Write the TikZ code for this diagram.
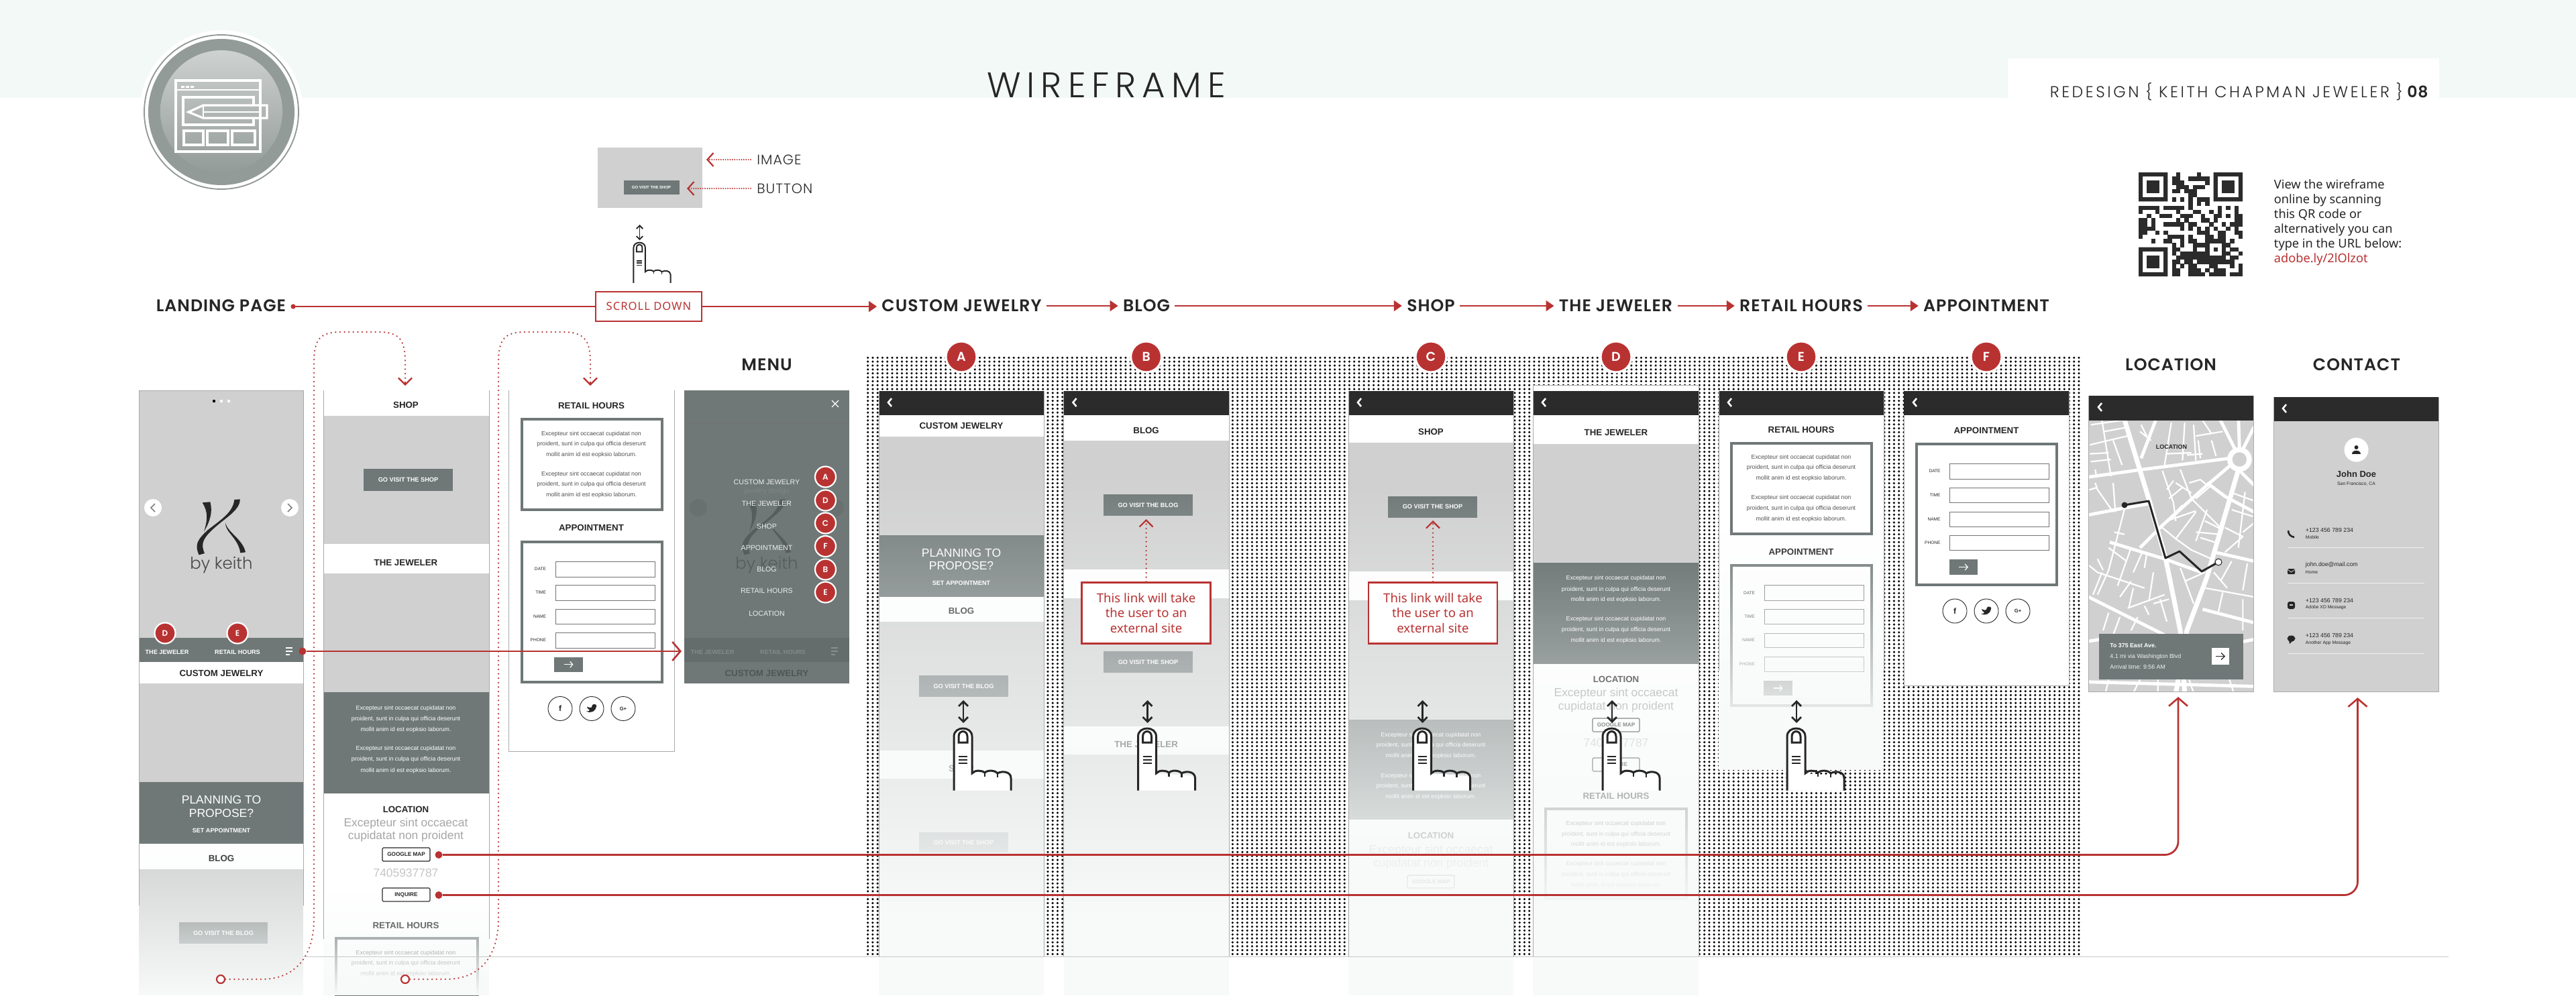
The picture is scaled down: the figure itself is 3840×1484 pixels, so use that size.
\documentclass[tikz,border=0pt]{standalone}
\usepackage{fontspec}
\usetikzlibrary{arrows.meta,fadings}
\setmainfont{Liberation Sans}
\newfontfamily\hd[LetterSpace=4]{Poppins SemiBold}
\newfontfamily\ltt[LetterSpace=17]{Poppins Light}
\newfontfamily\lta{Poppins Light}
\newfontfamily\lth[LetterSpace=15]{Poppins Light}
\newfontfamily\lti[LetterSpace=5]{Poppins Light}
\newfontfamily\ns{Noto Sans}
\newfontfamily\nss[LetterSpace=6]{Noto Sans}
\definecolor{ink}{HTML}{262626}
\definecolor{bandc}{HTML}{F3F9F7}
\definecolor{darkc}{HTML}{6F7777}
\definecolor{grayc}{HTML}{D0D0D0}
\definecolor{redc}{HTML}{B93232}
\definecolor{blackc}{HTML}{2B2B2B}
\definecolor{fadec}{HTML}{F7FAF9}
\definecolor{edgec}{HTML}{A8ABAB}
\definecolor{discc}{HTML}{939B99}
\definecolor{disctop}{HTML}{CED2D0}
\definecolor{ringc}{HTML}{8F9795}
\newcount\tcnt
\newcommand\fz[1]{\fontsize{#1}{#1}\selectfont}
\tikzfading[name=fdown, top color=transparent!100, bottom color=transparent!0]
\tikzset{
  txt/.style={inner sep=0pt,align=center,text=ink,font=\fz{5}},
  stitle/.style={font=\bfseries\fz{6.65}},
  para/.style={font=\fz{4.4}},
  bigp/.style={font=\fz{8.7},text=gray!70},
  headn/.style={inner ysep=0pt,inner xsep=3.5pt,text=ink,font=\hd\fz{12.6}},
  badge/.style={circle,fill=redc,draw=white,text=white,inner sep=0pt,line width=1.6pt,minimum size=23pt,font=\hd\fz{9.5}},
  sbadge/.style={circle,fill=redc,draw=white,text=white,inner sep=0pt,line width=1.1pt,minimum size=15.5pt,font=\hd\fz{6}},
  redline/.style={draw=redc,line width=1.4pt},
  thinred/.style={draw=redc,line width=.9pt},
  reddots/.style={draw=redc,line width=1.25pt,line cap=round,dash pattern=on 0pt off 3.3pt},
  keydots/.style={draw=redc,line width=1.1pt,line cap=round,dash pattern=on 0pt off 1.7pt},
  keytip/.style={-{Straight Barb[length=4.5pt,width=10pt,line width=1.1pt]}},
  opentip/.style={-{Straight Barb[length=5pt,width=10pt,line width=1.1pt]}},
  soltip/.style={-{Triangle[length=6pt,width=8pt]}},
  dotrow/.style={line width=1.75pt,line cap=round,dash pattern=on 0pt off 3.625pt,black},
  ring/.style={circle,draw=redc,fill=white,line width=1.1pt,minimum size=6pt,inner sep=0pt},
  dotn/.style={circle,fill=redc,minimum size=5.5pt,inner sep=0pt},
  road1/.style={draw=white,line width=3.5pt},
  road2/.style={draw=white,line width=2.4pt},
  road3/.style={draw=white,line width=1.1pt},
  callout/.style={draw=redc,fill=white,line width=1.3pt,minimum width=96pt,minimum height=45.5pt,inner sep=0pt,align=center,text=redc,font=\ns\fz{9.3}},
}
\newcommand\Tx[4][]{\global\advance\tcnt by 1\relax\node[txt,#1] (t\the\tcnt) at ({#2},{#3}) {#4};}
\newcommand\Rc[5]{\fill[#5] (#1,#2) rectangle (#3,#4);}
\newcommand\Fade[4]{\fill[fadec,path fading=fdown] (#1,#2) rectangle (#3,#4);}
\newcommand\Pthree[5]{%
 \Tx[para,text=#5]{#1}{#2}{Excepteur sint occaecat cupidatat non}
 \Tx[para,text=#5]{#1}{#3}{proident, sunt in culpa qui officia deserunt}
 \Tx[para,text=#5]{#1}{#4}{mollit anim id est eopksio laborum.}}
\newcommand\Pblock[8]{\Pthree{#1}{#2}{#3}{#4}{#8}\Pthree{#1}{#5}{#6}{#7}{#8}}
\newcommand\Btn[6]{\Rc{#1}{#2}{#3}{#4}{#5}\Tx[font=\bfseries\fz{4.6},text=white]{(#1+#3)/2}{(#2+#4)/2}{#6}}
\newcommand\Sbtn[5]{\draw[fill=white,draw=ink,line width=.6pt,rounded corners=.8pt] (#1,#2) rectangle (#3,#4);\Tx[font=\bfseries\fz{4.1}]{(#1+#3)/2}{(#2+#4)/2}{#5}}
\newcommand\Bbar[3]{\Rc{#1}{#3}{#2}{#3+36}{blackc}\draw[white,line width=1.3pt] (#1+19,#3+11) -- (#1+14,#3+17) -- (#1+19,#3+23);}
\newcommand\Field[6]{\draw[fill=white,draw=black!55,line width=.45pt] (#1,#2) rectangle (#3,#4);\Tx[anchor=east,font=\fz{3.3},text=#6]{#1-13.5}{(#2+#4)/2}{#5}}
\newcommand\ArBtn[4]{\Rc{#1}{#2}{#3}{#4}{darkc}\draw[white,line width=.6pt,-{Straight Barb[length=2pt,width=4.5pt]}] ({(#1+#3)/2-7},{(#2+#4)/2}) -- ({(#1+#3)/2+7},{(#2+#4)/2});}
\newcommand\Social[2]{%
 \draw[ink,line width=.45pt,fill=white] (#1-47,#2) circle[radius=18];
 \draw[ink,line width=.45pt,fill=white] (#1,#2) circle[radius=18];
 \draw[ink,line width=.45pt,fill=white] (#1+47,#2) circle[radius=18];
 \Tx[font=\bfseries\fz{6}]{#1-47}{#2}{f}
 \fill[ink] (#1-7,#2-3) .. controls (#1-3,#2-1) and (#1-1,#2-1) .. (#1,#2-2) .. controls (#1,#2-7) and (#1+5,#2-8) .. (#1+7,#2-5) -- (#1+7,#2-3) .. controls (#1+6,#2+3) and (#1,#2+8) .. (#1-8,#2+4) .. controls (#1-4,#2+4) and (#1-3,#2+3) .. (#1-3,#2+2) .. controls (#1-6,#2) and (#1-7,#2-1) .. cycle;
 \Tx[font=\bfseries\fz{3.8}]{#1+47}{#2}{G+}}
\newcommand\Hand[3]{%
 \begin{scope}[shift={(#1,#2)},scale=#3]
  \fill[white] (-14,93.5) -- (-14,13) .. controls (-14,-3) and (13,-3) .. (13,13) -- (13,68) -- (71,72) -- (71,93.5) -- cycle;
  \draw[ink,line width=#3*1.5pt] (-14,93.5) -- (-14,13) .. controls (-14,-3) and (13,-3) .. (13,13) -- (13,68) .. controls (17,63) and (27,63) .. (32,67) .. controls (36,63) and (47,63) .. (51,68) .. controls (57,64) and (71,65) .. (71,75) -- (71,93.5);
  \draw[ink,line width=#3*1.2pt] (32,67) -- (32,73) (51,68) -- (51,74);
  \draw[ink,line width=#3*1.5pt] (-7,22) -- (-7,13) .. controls (-7,3) and (6,3) .. (6,13) -- (6,22) -- cycle;
  \draw[ink,line width=#3*1.3pt] (-7,43) -- (6,43) (-7,48) -- (6,48) (-7,53) -- (6,53);
 \end{scope}}
\newcommand\Scroll[3]{\draw[ink,line width=#3*1.35pt,{Straight Barb[length=#3*3.5pt,width=#3*7pt]}-{Straight Barb[length=#3*3.5pt,width=#3*7pt]}] (#1,#2) -- (#1,#2+34*#3);}
\newcommand\Logo[3]{%
 \begin{scope}[xshift=#1*.5pt,x=.16667pt,y=-.16667pt,yshift=-365pt,xshift=130pt]
  \fill[#2] (125,58) -- (160,55) .. controls (172,100) and (160,140) .. (132,188) .. controls (150,130) and (150,100) .. cycle;
  \fill[#2] (268,45) -- (293,43) .. controls (295,90) and (230,125) .. (180,170) .. controls (130,215) and (115,240) .. (135,285) -- (110,292) .. controls (90,250) and (100,225) .. (150,180) .. controls (215,130) and (262,100) .. cycle;
  \fill[#2] (228,147) .. controls (235,190) and (305,220) .. (318,280) -- (295,283) .. controls (285,215) and (225,190) .. cycle;
 \end{scope}
 \Tx[font=\lta\fz{12.2},text=#3]{330+#1}{842}{by keith}}
\begin{document}
\begin{tikzpicture}[x=.5pt,y=-.5pt]
\useasboundingbox (0,0) rectangle (3840,1484);
\fill[white] (0,0) rectangle (3840,1484);
% header band
\Rc{0}{0}{3840}{146}{bandc}
\Rc{2993}{87}{3636}{146}{white}
\Tx[font=\ltt\fz{26.5}]{1649}{127}{WIREFRAME}
\node[txt,anchor=east,font=\fz{11.8}] (hdr) at (3620,137) {{\lth REDESIGN \{ KEITH CHAPMAN JEWELER \}} {\hd 08}};
% round icon
\fill[white] (330,167) circle[radius=122];
\draw[ringc,line width=.9pt] (330,167) circle[radius=115];
\fill[discc] (330,167) circle[radius=109];
\shade[top color=disctop,bottom color=discc] (330,166) circle[radius=91];
\draw[white,line width=2pt] (262,120) rectangle (388,226);
\draw[white,line width=1.4pt] (262,134) -- (388,134);
\fill[white] (270,128) rectangle (275,131) (277,128) rectangle (282,131) (284,128) rectangle (289,131);
\draw[white,line width=1.6pt] (378,156) -- (378,145) -- (273,145) -- (273,186) -- (378,186) -- (378,177);
\draw[white,line width=1.6pt] (303,157) -- (398,157) -- (398,176) -- (303,176) -- (281,167) -- cycle;
\draw[white,line width=1.4pt] (303,167) -- (388,167) (388,157) -- (388,176) (303,157) -- (303,176);
\draw[white,line width=1.6pt] (274,195) rectangle (303,216) (309,195) rectangle (340,216) (346,195) rectangle (380,216);
% key
\Rc{891}{220}{1047}{310}{grayc}
\Rc{930}{269}{1013}{290}{darkc}
\Tx[font=\bfseries\fz{3},text=white]{971}{279.5}{GO VISIT THE SHOP}
\node[txt,anchor=west,font=\lti\fz{10.3}] (kimg) at (1128,238) {IMAGE};
\node[txt,anchor=west,font=\lti\fz{10.3}] (kbtn) at (1128,281) {BUTTON};
\coordinate (kimgtip) at (1053,238);
\coordinate (kbtntip) at (1024,281);
\draw[keydots,keytip] (kimg.west) ++(-9,0) -- (kimgtip);
\draw[keydots,keytip] (kbtn.west) ++(-9,0) -- (kbtntip);
\Scroll{953.5}{335}{.68}
\Hand{953.5}{361}{.65}
% dots
\foreach \i in {0,...,152}{\pgfmathsetmacro\yy{533.3+5.85*\i}\draw[dotrow] (1293.7,\yy) -- (3100,\yy);}
% LANDING
\Rc{207}{582}{452}{1484}{white}
\Rc{207}{582}{452}{951}{grayc}
\fill[black] (319,598) circle[radius=2.2];\fill[white] (330,598) circle[radius=2.2];\fill[white] (341,598) circle[radius=2.2];
\fill[white] (228,757) circle[radius=13];\fill[white] (432,757) circle[radius=13];
\draw[gray,line width=.8pt] (231,751) -- (225,757) -- (231,763);
\draw[gray,line width=.8pt] (429,751) -- (435,757) -- (429,763);
\Logo{0}{ink}{ink!85}
\Rc{207}{951}{452}{987}{darkc}
\Tx[font=\bfseries\fz{4.55},text=white]{249}{972}{THE JEWELER}
\Tx[font=\bfseries\fz{4.55},text=white]{354}{972}{RETAIL HOURS}
\draw[white,line width=.6pt] (426,966) -- (436,966) (426,971) -- (436,971) (426,976) -- (432,976);
\Tx[stitle]{330}{1003.5}{CUSTOM JEWELRY}
\Rc{207}{1019}{452}{1166}{grayc}
\Rc{207}{1166}{452}{1258}{darkc}
\Tx[font=\fz{8.75},text=white]{330}{1192}{PLANNING TO}
\Tx[font=\fz{8.75},text=white]{330}{1212}{PROPOSE?}
\Tx[font=\bfseries\fz{4.55},text=white]{330}{1238}{SET APPOINTMENT}
\Tx[stitle]{330}{1280}{BLOG}
\Rc{207}{1296}{452}{1484}{grayc}
\Btn{267}{1375}{399}{1407}{darkc}{GO VISIT THE BLOG}
\Fade{207}{1250}{452}{1484}
\draw[edgec,line width=.3pt] (207,582) -- (452,582) (207,582) -- (207,1350) (452,582) -- (452,1350);
% COLUMN 2
\Rc{482}{582}{729}{1484}{white}
\Tx[stitle]{605}{604}{SHOP}
\Rc{482}{620}{729}{811}{grayc}
\Btn{542}{699}{675}{732}{darkc}{GO VISIT THE SHOP}
\Tx[stitle]{605}{839}{THE JEWELER}
\Rc{482}{855}{729}{1032}{grayc}
\Rc{482}{1032}{729}{1183}{darkc}
\Pblock{605}{1056}{1072}{1088}{1116}{1132}{1149}{white}
\Tx[stitle]{605}{1207}{LOCATION}
\Tx[bigp]{605}{1228}{Excepteur sint occaecat}
\Tx[bigp]{605}{1247}{cupidatat non proident}
\Sbtn{570}{1264}{641}{1284}{GOOGLE MAP}
\Tx[bigp,text=gray!45]{605}{1301}{7405937787}
\Sbtn{570}{1324}{641}{1344}{INQUIRE}
\Tx[stitle]{605}{1380}{RETAIL HOURS}
\draw[darkc,line width=2pt] (501,1399) rectangle (712,1484);
\Pthree{605}{1421}{1436}{1452}{ink!80}
\Fade{482}{1330}{729}{1484}
\draw[edgec,line width=.3pt] (482,582) -- (482,1400) (729,582) -- (729,1400);
% COLUMN 3
\draw[fill=white,draw=edgec,line width=.4pt] (758,582) -- (758,1120) -- (1005,1120) -- (1005,582);
\Tx[stitle]{881.5}{605}{RETAIL HOURS}
\draw[darkc,fill=white,line width=2pt] (777.5,625) rectangle (986.5,760);
\Pblock{881.5}{647}{662}{678}{707}{722}{738}{ink!80}
\Tx[stitle]{881.5}{787}{APPOINTMENT}
\draw[darkc,fill=white,line width=2pt] (777.5,807.5) rectangle (986.5,1017);
\Field{828}{837}{976}{860}{DATE}{ink}
\Field{828}{872}{976}{895}{TIME}{ink}
\Field{828}{908}{976}{930}{NAME}{ink}
\Field{828}{943}{976}{966}{PHONE}{ink}
\ArBtn{826}{979.5}{869}{1002}
\Social{882}{1056.5}
% MENU
\Rc{1020}{582}{1266}{1019}{darkc}
\draw[black!55,line width=.3pt] (1020,631) -- (1266,631);
\draw[white,line width=.6pt] (1240,597) -- (1250,607) (1240,607) -- (1250,597);
\fill[black!55] (1132,598) circle[radius=1.5];
\fill[black!6!darkc] (1041,757) circle[radius=13];\fill[black!6!darkc] (1245,757) circle[radius=13];
\Logo{813}{black!22!darkc}{black!22!darkc}
\Rc{1020}{951}{1266}{987}{black!9!darkc}
\Tx[font=\bfseries\fz{4.55},text=white!14!darkc]{1062}{972}{THE JEWELER}
\Tx[font=\bfseries\fz{4.55},text=white!14!darkc]{1167}{972}{RETAIL HOURS}
\draw[white!18!darkc,line width=.6pt] (1239,966) -- (1249,966) (1239,971) -- (1249,971) (1239,976) -- (1245,976);
\Tx[stitle,text=black!28!darkc]{1143}{1003.5}{CUSTOM JEWELRY}
\Tx[font=\fz{5.3},text=white!10!darkc]{1143}{733}{jewelry design}
\foreach \n/\yy in {CUSTOM JEWELRY/719,THE JEWELER/751,SHOP/785,APPOINTMENT/817,BLOG/849,RETAIL HOURS/881,LOCATION/914.5}{\Tx[font=\fz{5.3},text=white!88!darkc]{1143}{\yy}{\n}}
\foreach \n/\yy in {A/711,D/746,C/780,F/814.5,B/849,E/883}{\global\advance\tcnt by 1\node[sbadge] (t\the\tcnt) at (1230.5,\yy) {\n};}
\node[sbadge] (ld) at (246,944) {D};
\node[sbadge] (le) at (354,944) {E};
% SCREEN A
\Rc{1310}{583}{1556}{1484}{white}
\Rc{1310}{651}{1556}{798}{grayc}
\Rc{1310}{798}{1556}{890}{darkc}
\Tx[font=\fz{8.75},text=white]{1433}{824}{PLANNING TO}
\Tx[font=\fz{8.75},text=white]{1433}{843}{PROPOSE?}
\Tx[font=\bfseries\fz{4.55},text=white]{1433}{869}{SET APPOINTMENT}
\Tx[stitle]{1433}{911}{BLOG}
\Rc{1310}{927}{1556}{1119}{grayc}
\Btn{1370}{1007}{1503}{1039}{darkc}{GO VISIT THE BLOG}
\Tx[stitle]{1433}{1146}{SHOP}
\Rc{1310}{1161}{1556}{1484}{grayc}
\Btn{1370}{1241}{1503}{1271}{darkc}{GO VISIT THE SHOP}
\Fade{1310}{700}{1556}{1360}
\Rc{1310}{1360}{1556}{1484}{fadec}
\Rc{1310}{583}{1556}{619}{blackc}
\draw[white,line width=1.3pt] (1329,594) -- (1324,600) -- (1329,606);
\Tx[stitle]{1433}{635}{CUSTOM JEWELRY}
\draw[edgec,line width=.3pt] (1310,583) -- (1310,1426) (1556,583) -- (1556,1426);
% SCREEN B
\Rc{1585.5}{583}{1832}{1484}{white}
\Tx[stitle]{1708.6}{642}{BLOG}
\Rc{1585.5}{657}{1832}{849}{grayc}
\Btn{1645}{737}{1778}{769}{darkc}{GO VISIT THE BLOG}
\Rc{1585.5}{892}{1832}{1083}{grayc}
\Btn{1645}{971}{1778}{1003}{darkc}{GO VISIT THE SHOP}
\Tx[stitle]{1708.6}{1110}{THE JEWELER}
\Rc{1585.5}{1125}{1832}{1484}{grayc}
\Fade{1585.5}{700}{1832}{1360}
\Rc{1585.5}{1360}{1832}{1484}{fadec}
\Bbar{1585.5}{1832}{583}
\draw[edgec,line width=.3pt] (1585.5,583) -- (1585.5,1426) (1832,583) -- (1832,1426);
% SCREEN C
\Rc{2010}{583}{2256}{1484}{white}
\Tx[stitle]{2133}{644}{SHOP}
\Rc{2010}{660}{2256}{852}{grayc}
\Btn{2069}{739.5}{2202}{772}{darkc}{GO VISIT THE SHOP}
\Rc{2010}{895}{2256}{1072.6}{grayc}
\Rc{2010}{1072.6}{2256}{1222}{darkc}
\Pblock{2133}{1096}{1111}{1127}{1157}{1172}{1188}{white}
\Tx[stitle]{2133}{1246}{LOCATION}
\Tx[bigp]{2133}{1268}{Excepteur sint occaecat}
\Tx[bigp]{2133}{1288}{cupidatat non proident}
\Sbtn{2098}{1305}{2168}{1324}{GOOGLE MAP}
\Fade{2010}{720}{2256}{1370}
\Rc{2010}{1370}{2256}{1484}{fadec}
\Bbar{2010}{2256}{583}
\draw[edgec,line width=.3pt] (2010,583) -- (2010,1426) (2256,583) -- (2256,1426);
% SCREEN D
\Rc{2285}{574}{2532}{1484}{white}
\Tx[stitle]{2409}{645}{THE JEWELER}
\Rc{2285}{661.5}{2532}{838.6}{grayc}
\Rc{2285}{838.6}{2532}{990}{darkc}
\Pblock{2409}{862}{879}{894}{923}{939}{955}{white}
\Tx[stitle]{2409}{1013}{LOCATION}
\Tx[bigp]{2409}{1034}{Excepteur sint occaecat}
\Tx[bigp]{2409}{1054}{cupidatat non proident}
\Sbtn{2374}{1071}{2444}{1091}{GOOGLE MAP}
\Tx[bigp,text=gray!45]{2409}{1107}{7405937787}
\Sbtn{2374}{1130}{2444}{1150}{INQUIRE}
\Tx[stitle]{2409}{1187}{RETAIL HOURS}
\draw[darkc,line width=2pt] (2304,1206) rectangle (2514,1340);
\Pblock{2409}{1228}{1244}{1259}{1288}{1304}{1320}{ink!80}
\Fade{2285}{820}{2532}{1360}
\Rc{2285}{1360}{2532}{1484}{fadec}
\Bbar{2285}{2532}{583}
\draw[edgec,line width=.3pt] (2285,574) -- (2532,574) (2285,574) -- (2285,1426) (2532,574) -- (2532,1426);
% SCREEN E
\Rc{2562}{583}{2808}{1148}{white}
\Tx[stitle]{2685}{641}{RETAIL HOURS}
\draw[darkc,fill=white,line width=2pt] (2581,661) rectangle (2790,796);
\Pblock{2685}{682}{697}{713}{742}{758}{774}{ink!80}
\Tx[stitle]{2685}{823}{APPOINTMENT}
\draw[darkc,fill=white,line width=2pt] (2581,843) rectangle (2790,1052);
\Field{2630}{872.5}{2778}{895}{DATE}{ink}
\Field{2630}{908}{2778}{930}{TIME}{ink}
\Field{2630}{944}{2778}{965}{NAME}{ink}
\Field{2630}{979}{2778}{1001}{PHONE}{ink}
\ArBtn{2629}{1015}{2672}{1037}
\Fade{2562}{790}{2808}{1100}
\Rc{2562}{1100}{2808}{1148}{fadec}
\Bbar{2562}{2808}{583}
\draw[edgec,line width=.3pt] (2562,583) -- (2562,1000) (2808,583) -- (2808,1000);
% SCREEN F
\draw[fill=white,draw=edgec,line width=.4pt] (2838,583) rectangle (3084,1022);
\Bbar{2838}{3084}{583}
\Tx[stitle]{2961}{642}{APPOINTMENT}
\draw[darkc,fill=white,line width=2pt] (2857,661.5) rectangle (3066,872);
\Field{2906.5}{691}{3054.6}{714}{DATE}{ink}
\Field{2906.5}{727}{3054.6}{749}{TIME}{ink}
\Field{2906.5}{763}{3054.6}{785}{NAME}{ink}
\Field{2906.5}{798.5}{3054.6}{820}{PHONE}{ink}
\ArBtn{2906}{834}{2948}{857}
\Social{2961}{911}
% LOCATION
\begin{scope}
\clip (3114,627) rectangle (3359,1031);
\Rc{3114}{627}{3359}{1031}{grayc}
\begin{scope}[x=.16667pt,y=-.16667pt,xshift=1555pt,yshift=-310pt]
 \draw[road1] (170,15) -- (245,260) -- (285,390) -- (355,640) -- (420,960) -- (440,1240);
 \draw[road1] (695,190) -- (610,480) -- (540,720) -- (450,960) -- (400,1240);
 \draw[road2] (0,275) -- (250,240) -- (640,190);
 \draw[road2] (590,0) -- (670,160) (750,50) -- (700,150) (680,0) -- (685,150) (680,240) -- (750,310);
 \draw[road2] (0,445) -- (170,412) -- (285,392);
 \draw[road2] (0,805) -- (110,860) -- (360,985);
 \draw[road2] (640,225) -- (540,310) -- (440,400) -- (340,490) -- (240,590);
 \draw[road2] (520,865) -- (750,925) (575,610) -- (750,650);
 \draw[road2] (105,565) -- (350,640) -- (515,700);
 \draw[road2] (540,300) -- (620,360) -- (750,430);
 \draw[road3] (70,20) -- (110,270) (120,110) -- (160,220) (15,130) -- (120,105) -- (185,90) (80,70) -- (190,50) (20,40) -- (160,20) (15,170) -- (100,165) (20,205) -- (110,195) (40,240) -- (45,270);
 \draw[road2] (310,20) -- (245,190);
 \draw[road3] (240,70) -- (290,110) (245,40) -- (270,90) (380,30) -- (350,220) (440,30) -- (430,200) (480,40) -- (490,200) (355,170) -- (470,165) (450,175) -- (520,170) (520,20) -- (560,80) (490,90) -- (610,70) (500,110) -- (510,190) (560,110) -- (580,180);
 \draw[road3] (340,245) -- (390,390) -- (400,470) (420,240) -- (470,370) -- (540,440) -- (610,510) (360,330) -- (390,290) (370,370) -- (430,320) (400,300) -- (470,345) (460,300) -- (510,285) -- (540,310) (490,370) -- (560,310);
 \draw[road3] (340,500) -- (400,550) -- (470,600) -- (560,640) (350,480) -- (430,400) (360,470) -- (490,425) (400,550) -- (490,430) (490,520) -- (600,530) (540,420) -- (490,560) (530,470) -- (610,510) (510,545) -- (590,570);
 \draw[road3] (710,340) -- (680,590) (640,340) -- (750,380) (650,420) -- (745,450) (620,500) -- (700,540) (700,520) -- (750,480) (620,610) -- (700,540);
 \draw[road3] (40,300) -- (50,330) -- (120,430) (50,320) -- (0,335) (120,300) -- (130,430) (170,420) -- (100,690) -- (50,800) (125,520) -- (170,530) (100,590) -- (180,650) (50,640) -- (75,690);
 \draw[road3] (0,660) -- (50,700) -- (260,770) (70,700) -- (30,800) (250,610) -- (210,700) (200,590) -- (140,760) (270,620) -- (260,680) (300,700) -- (280,830);
 \draw[road3] (150,810) -- (200,740) (210,770) -- (190,860) (185,860) -- (350,800) (300,840) -- (370,820) (330,820) -- (360,920) (260,850) -- (280,890);
 \draw[road3] (420,680) -- (480,840) (440,740) -- (530,700) (570,700) -- (630,770) (650,650) -- (600,740) (720,660) -- (700,780) (530,770) -- (750,810) (610,790) -- (590,880) (700,820) -- (700,960) (100,880) -- (75,960) (150,900) -- (120,980) (230,900) -- (200,960);
 \draw[road2] (0,1010) -- (60,1000) (700,1010) -- (750,1000) (0,1190) -- (750,1210);
 \draw[road3] (100,1180) -- (85,1240) (240,1180) -- (210,1240) (460,1180) -- (480,1240) (640,1180) -- (660,1240) (320,1180) -- (320,1240);
 \fill[white] (685,195) circle[radius=55];
 \fill[grayc] (685,195) circle[radius=32];
\end{scope}
\end{scope}
\draw[edgec,line width=.5pt] (3113.5,590) rectangle (3359,1031);
\Rc{3113.5}{590}{3359}{627}{blackc}
\draw[white,line width=1.3pt] (3133,601) -- (3128,607) -- (3133,613);
\Tx[font=\bfseries\fz{4.5}]{3237}{666}{LOCATION}
\coordinate (ra) at (3167,753);\coordinate (rb) at (3203,747);\coordinate (rc) at (3228,832);\coordinate (rd) at (3249,822);\coordinate (re) at (3282,852);\coordinate (rf) at (3307,838);
\draw[ink,line width=1.5pt,line join=round] (ra) -- (rb) -- (rc) -- (rd) -- (re) -- (rf);
\fill[ink] (ra) circle[radius=4.5];
\draw[ink,fill=white,line width=.5pt] (rf) circle[radius=5];
\Rc{3129}{945}{3344}{1013}{darkc}
\node[txt,anchor=west,font=\bfseries\fz{4.4},text=white] (m1) at (3145,962.5) {To 375 East Ave.};
\node[txt,anchor=west,font=\fz{4.4},text=white!90!darkc] (m2) at (3145,979) {4.1 mi via Washington Blvd};
\node[txt,anchor=west,font=\fz{4.4},text=white!90!darkc] (m3) at (3145,994) {Arrival time: 9:56 AM};
\Rc{3297}{966}{3323}{991}{white}
\draw[ink,line width=.6pt,-{Straight Barb[length=2.5pt,width=5pt]}] (3303,978.5) -- (3317,978.5);
% CONTACT
\draw[fill=grayc,draw=edgec,line width=.4pt] (3389.5,592) rectangle (3635.4,1031);
\Rc{3389.5}{592}{3635.4}{628}{blackc}
\draw[white,line width=1.3pt] (3408,603) -- (3403,609) -- (3408,615);
\fill[white] (3512.5,670.6) circle[radius=18];
\fill[ink] (3512.5,667) circle[radius=3];
\fill[ink] (3506,677) .. controls (3506,670) and (3519,670) .. (3519,677) -- cycle;
\Tx[font=\bfseries\fz{6.5}]{3512.5}{707}{John Doe}
\Tx[font=\fz{3.4}]{3512.5}{721}{San Francisco, CA}
\foreach \yy/\a/\b in {790/{+123 456 789 234}/Mobile,842.5/{john.doe@mail.com}/Home,895/{+123 456 789 234}/Adobe XD Message,947.5/{+123 456 789 234}/Another App Message}{
 \global\advance\tcnt by 1\node[txt,anchor=west,font=\fz{4.4}] (t\the\tcnt) at (3436.5,\yy) {\a};
 \global\advance\tcnt by 1\node[txt,anchor=west,font=\fz{3.4}] (t\the\tcnt) at (3436.5,\yy+11) {\b};
 \draw[white!88!gray,line width=.3pt] (3410,\yy+26.5) -- (3614,\yy+26.5);
}
\draw[ink,line width=1.3pt] (3411,791) .. controls (3411,797) and (3415,800) .. (3420,801);
\fill[ink,rounded corners=.6pt] (3410,848) rectangle (3421,856);
\draw[grayc,line width=.4pt] (3410,849) -- (3415.5,853) -- (3421,849);
\fill[ink,rounded corners=1.5pt] (3410,897) rectangle (3421,908);
\fill[grayc] (3413,901) rectangle (3418,903);
\fill[ink] (3415.5,952) ellipse[x radius=6,y radius=4.5];
\fill[ink] (3412,954) -- (3413,960) -- (3418,955) -- cycle;
% QR
\begin{scope}[shift={(3188,257)}]
\def\mm{6.2}
\foreach \ax/\ay in {0/0,18/0,0/18}{
 \fill[blackc,even odd rule] (\ax*\mm,\ay*\mm) rectangle ({(\ax+7)*\mm},{(\ay+7)*\mm}) ({(\ax+1)*\mm},{(\ay+1)*\mm}) rectangle ({(\ax+6)*\mm},{(\ay+6)*\mm});
 \fill[blackc] ({(\ax+2)*\mm},{(\ay+2)*\mm}) rectangle ({(\ax+5)*\mm},{(\ay+5)*\mm});}
\foreach \r/\cs in {0/{9,14},1/{8,9,12,13,14,15,16},2/{8,9,10,16},3/{9,10,11,13,14,15},4/{8,9,11,12,13},5/{12,13},6/{8,10,12,14,15,16},7/{12,14,16},8/{0,1,2,3,4,6,7,8,9,10,12,19,21,23},9/{0,4,9,13,14,17,19,23},10/{2,5,6,7,10,11,12,15,18,19,21,23,24},11/{0,1,3,9,11,15,16,18,23,24},12/{0,1,3,6,7,8,9,10,12,13,17,20,22,23,24},13/{0,1,2,3,10,12,14,16,18,21,23},14/{0,1,4,6,14,15,16,19,20,23,24},15/{0,7,8,9,10,12,16,17,19,20,24},16/{3,6,7,10,12,13,16,17,18,19,20,22},17/{8,10,13,14,15,16,20,21},18/{8,9,13,16,18,20,22,23},19/{8,10,11,12,13,14,15,16,20,21,24},20/{9,10,11,12,13,14,15,16,17,18,19,20,22,23},21/{8,9,11,12,14,15,16,17,18,19,20,21,22},22/{8,10,12,13,17,18,22,24},23/{8,9,12,13,14,16,18,19,20,24},24/{8,9,12,13,14,15,17,18,19,20,22,23,24}}{
 \foreach \c in \cs {\fill[blackc] (\c*\mm-.1,\r*\mm-.1) rectangle ({(\c+1)*\mm+.1},{(\r+1)*\mm+.1});}}
\end{scope}
\node[anchor=north west,inner sep=0pt,align=left,text=ink,font=\ns\fontsize{9.1}{11}\selectfont] (qrt) at (3389.5,267) {View the wireframe\\online by scanning\\this QR code or\\alternatively you can\\type in the URL below:\\\textcolor{redc}{adobe.ly/2lOlzot}};
% hands and arrows over screens
\foreach \hx in {1436,1710.5,2120.6,2403,2678}{\Scroll{\hx}{1044}{1}\Hand{\hx}{1085}{1}}
% callouts
\node[callout] (cb) at (1708.6,914) {This link will take\\[2pt]the user to an\\[2pt]external site};
\node[callout] (cc) at (2136,914) {This link will take\\[2pt]the user to an\\[2pt]external site};
\coordinate (cbtip) at (1708.6,774);\coordinate (cctip) at (2136,776);
\draw[reddots,opentip] (cb.north) -- (cbtip);
\draw[reddots,opentip] (cc.north) -- (cctip);
% badges
\foreach \x/\n in {1433/A,1708.6/B,2133/C,2409/D,2685/E,2961/F}{\node[badge] (b\n) at (\x,532) {\n};}
% headings flow
\node[headn] (landing) at (329.5,456) {LANDING PAGE};
\node[headn] (cj) at (1433.5,456) {CUSTOM JEWELRY};
\node[headn] (blog) at (1709,456) {BLOG};
\node[headn] (shop) at (2133,456) {SHOP};
\node[headn] (jew) at (2408.5,456) {THE JEWELER};
\node[headn] (ret) at (2685,456) {RETAIL HOURS};
\node[headn] (app) at (2961,456) {APPOINTMENT};
\node[headn] (menu) at (1143,544) {MENU};
\node[headn] (loc) at (3236,544) {LOCATION};
\node[headn] (con) at (3513,544) {CONTACT};
\node[draw=redc,fill=white,line width=.7pt,minimum width=79pt,minimum height=22pt,inner sep=0pt,text=redc,font=\nss\fz{8.3}] (scroll) at (967,457) {SCROLL DOWN};
\draw[redline,line width=1.2pt,-{Circle[length=3.5pt]}] (scroll.west) -- (scroll.west -| landing.east);
\draw[redline,line width=1.2pt,soltip] (scroll.east) -- (scroll.east -| cj.west);
\draw[thinred,soltip] (cj) -- (blog);
\draw[thinred,soltip] (blog) -- (shop);
\draw[thinred,soltip] (shop) -- (jew);
\draw[thinred,soltip] (jew) -- (ret);
\draw[thinred,soltip] (ret) -- (app);
% dotted loops
\node[ring] (la) at (329,1460) {};
\node[ring] (lb) at (604,1460) {};
\coordinate (latip) at (604,575);\coordinate (lbtip) at (880,575);
\draw[reddots] (la.east) -- (390,1460) .. controls (445,1460) and (468,1420) .. (468,1370) -- (468,540) .. controls (468,505) and (478,495) .. (508,495) -- (564,495) .. controls (594,495) and (604,505) .. (604,540) -- (604,568);
\draw[redc,line width=1.1pt,-{Straight Barb[length=5pt,width=10pt,line width=1.1pt]}] (604,569) -- (latip);
\draw[reddots] (lb.east) -- (665,1460) .. controls (720,1460) and (743,1420) .. (743,1370) -- (743,540) .. controls (743,505) and (753,495) .. (783,495) -- (839,495) .. controls (869,495) and (880,505) .. (880,540) -- (880,568);
\draw[redc,line width=1.1pt,-{Straight Barb[length=5pt,width=10pt,line width=1.1pt]}] (880,569) -- (lbtip);
% red long lines
\coordinate (ltip) at (3247,1039);\coordinate (ctip) at (3514.5,1040);\coordinate (mtip) at (1016,971);
\node[dotn] (md) at (451,971) {};
\node[dotn] (gd) at (654,1274.5) {};
\node[dotn] (id) at (654,1334.5) {};
\draw[redline,-{Straight Barb[length=6pt,width=14pt,line width=1.3pt]}] (md) -- (mtip);
\draw[redline,rounded corners=10pt,-{Straight Barb[length=6pt,width=14pt,line width=1.3pt]}] (gd) -| (ltip);
\draw[redline,rounded corners=10pt,-{Straight Barb[length=6pt,width=14pt,line width=1.3pt]}] (id) -| (ctip);
% base line
\draw[black!22,line width=.5pt] (452,1426) -- (3650,1426);
\end{tikzpicture}
\end{document}
